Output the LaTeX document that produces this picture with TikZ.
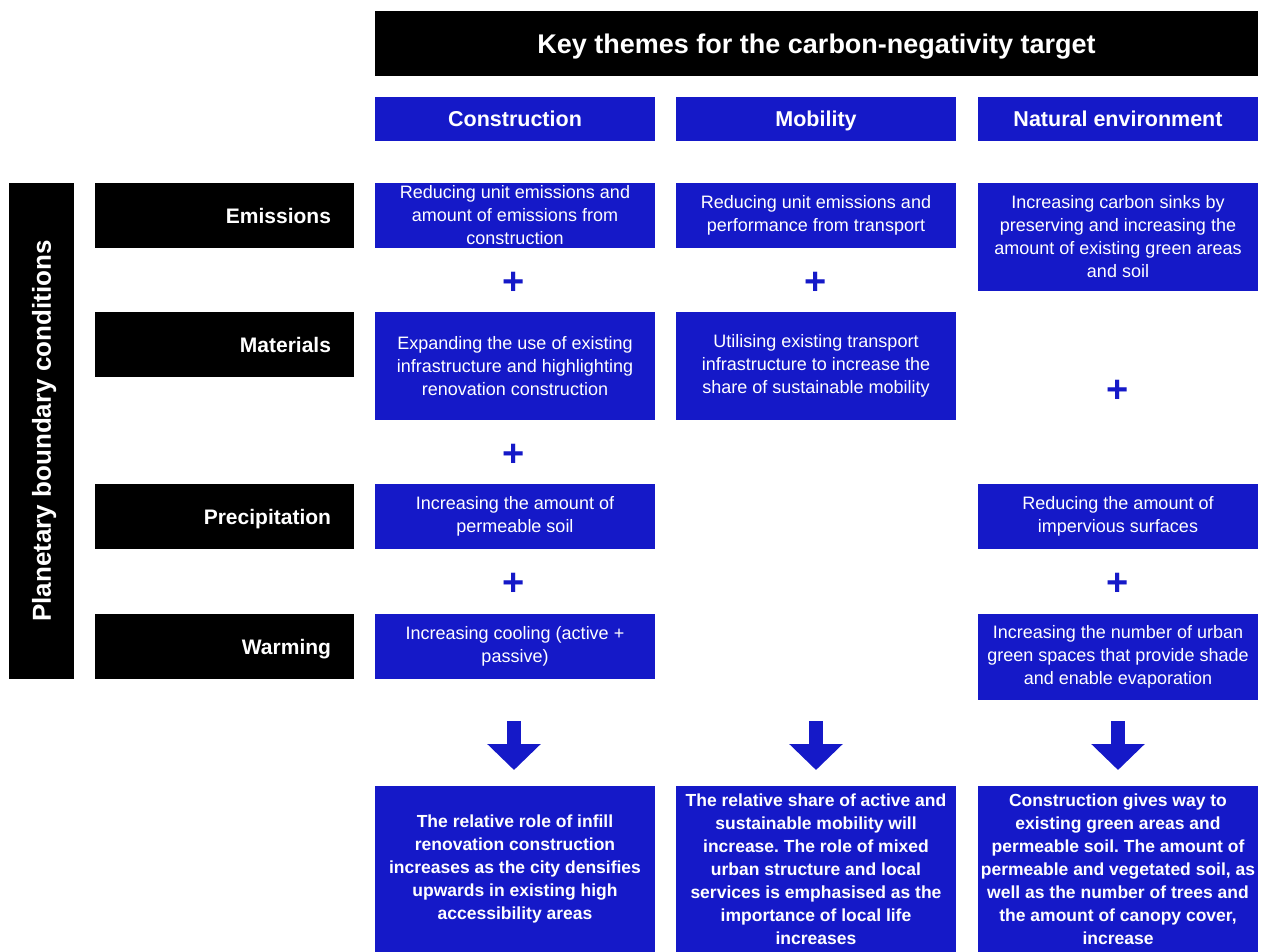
\documentclass[tikz,border=0pt]{standalone}
\usepackage{fontspec}
\setmainfont{Liberation Sans}
\usetikzlibrary{arrows.meta}
\definecolor{themeblue}{RGB}{21,25,200}
\frenchspacing

\begin{document}
\begin{tikzpicture}[x=1pt,y=-1pt,
  blackbox/.style={fill=black, text=white, inner sep=0pt, text depth=0pt, text height=15pt, font=\fontsize{21}{25}\selectfont\bfseries},
  rowlabel/.style={blackbox, minimum height=65pt, text width=213pt, inner xsep=23pt, align=right},
  theme/.style={fill=themeblue, text=white, minimum width=280pt, minimum height=44pt, inner sep=0pt, text depth=0pt, text height=15.4pt, font=\fontsize{21.5}{25}\selectfont\bfseries},
  idea/.style={fill=themeblue, text=white, minimum width=280pt, inner sep=0pt, align=center, font=\fontsize{18}{23}\selectfont},
  result/.style={idea, minimum height=166pt, font=\fontsize{17.5}{23}\selectfont\bfseries},
  plus/.style={text=themeblue, inner sep=0pt, font=\fontsize{38}{38}\selectfont\bfseries},
  down/.style={themeblue, line width=14pt, -{Triangle[width=52pt,length=26pt]}}]
\useasboundingbox (0,0) rectangle (1266,952);

\node[blackbox, minimum width=883pt, minimum height=65pt, text height=19.3pt, font=\fontsize{27}{30}\selectfont\bfseries] (title) at (816.5,43.5) {Key themes for the carbon-negativity target};

\node[theme] (hC) at (515,119) {Construction};
\node[theme] (hM) at (816,119) {Mobility};
\node[theme] (hN) at (1118,119) {Natural environment};

\node[blackbox, rotate=90, minimum width=496pt, minimum height=65pt, text height=18.6pt, font=\fontsize{26}{30}\selectfont\bfseries] (planet) at (41.5,431) {Planetary boundary conditions};

\node[rowlabel] (rE) at (224.5,215.5) {Emissions};
\node[rowlabel] (rM) at (224.5,344.5) {Materials};
\node[rowlabel] (rP) at (224.5,516.5) {Precipitation};
\node[rowlabel] (rW) at (224.5,646.5) {Warming};

\node[idea, minimum height=65pt] (cE) at (515,215.5) {Reducing unit emissions and\\amount of emissions from\\construction};
\node[idea, minimum height=108pt] (cM) at (515,366) {Expanding the use of existing\\infrastructure and highlighting\\renovation construction};
\node[idea, minimum height=65pt] (cP) at (515,516.5) {Increasing the amount of\\permeable soil};
\node[idea, minimum height=65pt] (cW) at (515,646.5) {Increasing cooling (active +\\passive)};

\node[idea, minimum height=65pt] (mE) at (816,215.5) {Reducing unit emissions and\\performance from transport};
\node[idea, minimum height=108pt] (mM) at (816,366) {Utilising existing transport\\infrastructure to increase the\\share of sustainable mobility};

\node[idea, minimum height=108pt] (nE) at (1118,237) {Increasing carbon sinks by\\preserving and increasing the\\amount of existing green areas\\and soil};
\node[idea, minimum height=65pt] (nP) at (1118,516.5) {Reducing the amount of\\impervious surfaces};
\node[idea, minimum height=86pt] (nW) at (1118,657) {Increasing the number of urban\\green spaces that provide shade\\and enable evaporation};

\node[plus] (p1) at (514,283) {+};
\node[plus] (p2) at (514,455) {+};
\node[plus] (p3) at (514,584) {+};
\node[plus] (p4) at (816,283) {+};
\node[plus] (p5) at (1118,391) {+};
\node[plus] (p6) at (1118,584) {+};

\coordinate (cA) at (514,721);
\coordinate (cB) at (514,770);
\coordinate (mA) at (816,721);
\coordinate (mB) at (816,770);
\coordinate (nA) at (1118,721);
\coordinate (nB) at (1118,770);
\draw[down] (cA) -- (cB);
\draw[down] (mA) -- (mB);
\draw[down] (nA) -- (nB);

\node[result] (cR) at (515,869) {The relative role of infill\\renovation construction\\increases as the city densifies\\upwards in existing high\\accessibility areas};
\node[result] (mR) at (816,869) {The relative share of active and\\sustainable mobility will\\increase. The role of mixed\\urban structure and local\\services is emphasised as the\\importance of local life\\increases};
\node[result] (nR) at (1118,869) {Construction gives way to\\existing green areas and\\permeable soil. The amount of\\permeable and vegetated soil, as\\well as the number of trees and\\the amount of canopy cover,\\increase};

\end{tikzpicture}
\end{document}
